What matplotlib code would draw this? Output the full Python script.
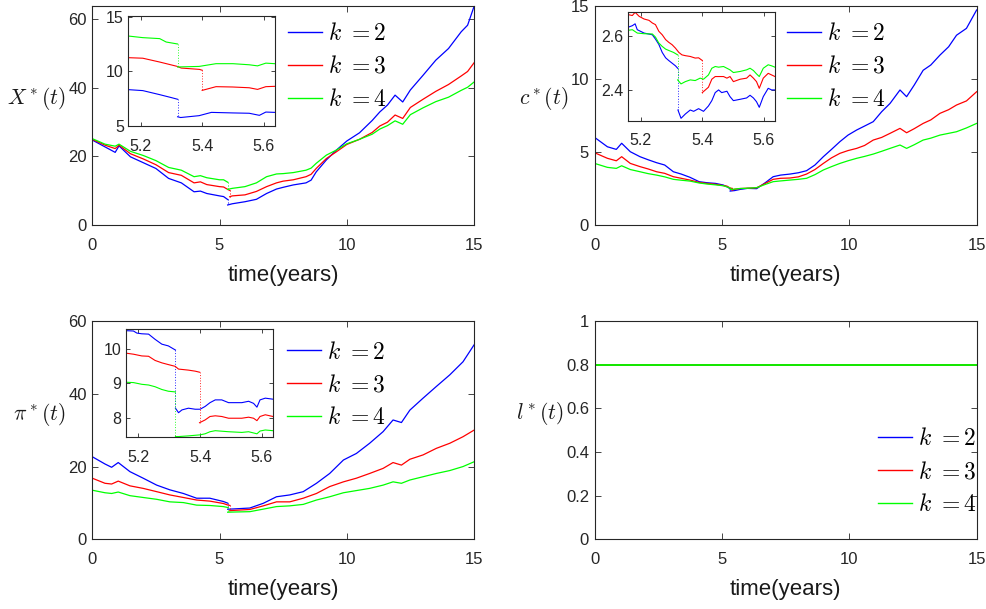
import numpy as np
import matplotlib
matplotlib.use('Agg')
import matplotlib.pyplot as plt

plt.rcParams['mathtext.fontset'] = 'cm'
SANS = ['Liberation Sans', 'DejaVu Sans']
plt.rcParams['font.family'] = SANS

# ---------------- data ----------------
labels = [r'$k\ {=}2$', r'$k\ {=}3$', r'$k\ {=}4$']
colors = ['#0000ff', '#ff0000', '#00ff00']

# Panel 1: X*(t)
t1 = [0, 0.5, 0.9, 1.05, 1.5, 2, 2.5, 3, 3.5, 4, 4.25, 4.5, 5, 5.16, 5.32, 5.32,
      5.5, 6, 6.45, 6.85, 7.24, 7.5, 7.9, 8.4, 8.6, 8.8, 9.2, 9.6, 10, 10.5, 11,
      11.3, 11.6, 11.9, 12.2, 12.5, 13, 13.5, 14, 14.5, 14.75, 15]
t1r = [0, 0.5, 0.9, 1.05, 1.5, 2, 2.5, 3, 3.5, 4, 4.25, 4.5, 5, 5.16, 5.32, 5.4, 5.4,
       5.5, 6, 6.45, 6.85, 7.24, 7.5, 7.9, 8.4, 8.6, 8.8, 9.2, 9.6, 10, 10.5, 11,
       11.3, 11.6, 11.9, 12.2, 12.5, 13, 13.5, 14, 14.5, 14.75, 15]
X_k2 = [24.8, 22.8, 21.2, 23.1, 19.9, 18.2, 16.5, 13.6, 12.3, 9.7, 9.9, 9.2, 8.5, 8.3,
        7.45, 5.85, 6.2, 6.8, 7.5, 9.2, 10.5, 11.0, 11.7, 12.3, 13.1, 15.5, 19.0, 21.9,
        24.5, 26.9, 30.5, 33.0, 35.0, 37.9, 35.9, 39.4, 43.7, 48.1, 51.5, 56.4, 58.3, 63.7]
X_k3 = [25.0, 23.3, 22.3, 23.3, 20.8, 19.3, 17.6, 15.3, 14.5, 12.3, 12.6, 11.8, 11.2,
        11.1, 10.4, 10.1, 8.25, 8.5, 8.8, 9.8, 11.2, 12.3, 12.8, 13.2, 14.1, 14.8, 16.5,
        19.4, 21.4, 23.5, 25.0, 27.0, 28.9, 30.0, 32.1, 31.1, 34.3, 36.7, 39.0, 41.0,
        43.5, 44.8, 47.3]
X_k4 = [25.2, 23.6, 23.0, 23.6, 21.5, 20.3, 18.8, 16.8, 16.0, 14.1, 14.4, 13.8, 13.2,
        13.2, 12.5, 10.4, 10.7, 11.2, 12.3, 14.1, 14.9, 15.0, 15.3, 16.0, 16.6, 18.0,
        20.4, 21.9, 23.7, 25.0, 26.5, 28.0, 29.0, 30.4, 29.4, 32.2, 34.2, 36.0, 37.3,
        39.3, 40.2, 41.7]
# inset 1
ti1_k2 = [5.159, 5.207, 5.262, 5.30, 5.32, 5.32, 5.33, 5.39, 5.43, 5.50, 5.553, 5.586, 5.607, 5.636]
Xi_k2 = [8.33, 8.24, 7.87, 7.6, 7.45, 5.85, 5.78, 5.95, 6.25, 6.2, 6.17, 5.98, 6.28, 6.25]
ti1_k3 = [5.159, 5.207, 5.262, 5.318, 5.332, 5.391, 5.40, 5.40, 5.445, 5.499, 5.553, 5.58, 5.607, 5.636]
Xi_k3 = [11.25, 11.2, 10.85, 10.46, 10.3, 10.18, 10.1, 8.26, 8.6, 8.57, 8.5, 8.35, 8.6, 8.63]
ti1_k4 = [5.159, 5.207, 5.262, 5.283, 5.32, 5.32, 5.39, 5.445, 5.50, 5.553, 5.58, 5.607, 5.636]
Xi_k4 = [13.23, 13.08, 12.99, 12.68, 12.5, 10.4, 10.45, 10.7, 10.7, 10.6, 10.5, 10.75, 10.7]

# Panel 2: c*(t)
t2 = [0, 0.5, 0.85, 1.06, 1.4, 1.78, 2.1, 2.43, 2.75, 3.09, 3.4, 3.74, 4.1, 4.4, 4.75,
      5.05, 5.2, 5.32, 5.32, 5.5, 5.71, 6.0, 6.36, 6.7, 7.01, 7.3, 7.67, 8.0, 8.32, 8.65,
      8.98, 9.3, 9.63, 9.95, 10.29, 10.6, 10.94, 11.27, 11.6, 11.99, 12.25, 12.55, 12.9,
      13.2, 13.56, 13.9, 14.21, 14.6, 15]
t2r = [0, 0.5, 0.85, 1.06, 1.4, 1.78, 2.1, 2.43, 2.75, 3.09, 3.4, 3.74, 4.1, 4.4, 4.75,
       5.05, 5.2, 5.32, 5.4, 5.4, 5.5, 5.71, 6.0, 6.36, 6.7, 7.01, 7.3, 7.67, 8.0, 8.32,
       8.65, 8.98, 9.3, 9.63, 9.95, 10.29, 10.6, 10.94, 11.27, 11.6, 11.99, 12.25, 12.55,
       12.9, 13.2, 13.56, 13.9, 14.21, 14.6, 15]
c_k2 = [6.0, 5.36, 5.18, 5.6, 5.02, 4.68, 4.47, 4.27, 4.11, 3.65, 3.49, 3.27, 2.97, 2.9,
        2.85, 2.74, 2.62, 2.48, 2.325, 2.36, 2.44, 2.51, 2.49, 2.9, 3.31, 3.42, 3.49, 3.58,
        3.72, 4.11, 4.68, 5.18, 5.71, 6.16, 6.51, 6.78, 7.08, 7.76, 8.33, 9.25, 8.79, 9.59,
        10.6, 10.96, 11.64, 12.21, 13.0, 13.47, 14.73]
c_k3 = [4.95, 4.57, 4.4, 4.68, 4.22, 4.0, 3.84, 3.65, 3.54, 3.31, 3.2, 3.08, 2.92, 2.85,
        2.79, 2.7, 2.66, 2.53, 2.51, 2.39, 2.45, 2.5, 2.52, 2.55, 2.85, 3.13, 3.2, 3.22, 3.3,
        3.49, 3.8, 4.22, 4.6, 4.91, 5.1, 5.25, 5.45, 5.82, 6.0, 6.28, 6.62, 6.32, 6.6, 6.96,
        7.2, 7.65, 7.9, 8.22, 8.5, 9.13]
c_k4 = [4.22, 3.95, 3.88, 4.06, 3.8, 3.65, 3.52, 3.42, 3.3, 3.13, 3.07, 3.01, 2.88, 2.81,
        2.75, 2.69, 2.61, 2.53, 2.44, 2.46, 2.5, 2.52, 2.56, 2.78, 2.97, 3.02, 3.08, 3.13,
        3.2, 3.45, 3.77, 4.0, 4.22, 4.4, 4.57, 4.7, 4.86, 5.05, 5.25, 5.48, 5.25, 5.5, 5.82,
        5.95, 6.16, 6.28, 6.39, 6.65, 6.96]
# inset 2
ti2_k2 = [5.161, 5.173, 5.182, 5.189, 5.211, 5.238, 5.248, 5.259, 5.270, 5.281, 5.291,
          5.302, 5.313, 5.321, 5.321, 5.331, 5.345, 5.361, 5.372, 5.388, 5.404, 5.420,
          5.431, 5.442, 5.453, 5.463, 5.480, 5.490, 5.501, 5.523, 5.544, 5.555, 5.566,
          5.576, 5.585, 5.598, 5.614, 5.625, 5.636]
ci_k2 = [2.635, 2.64, 2.647, 2.625, 2.6125, 2.606, 2.59, 2.57, 2.54, 2.52, 2.51, 2.50,
         2.49, 2.48, 2.325, 2.294, 2.31, 2.325, 2.32, 2.33, 2.32, 2.34, 2.36, 2.39, 2.40,
         2.39, 2.395, 2.375, 2.36, 2.365, 2.37, 2.38, 2.37, 2.356, 2.335, 2.375, 2.406,
         2.40, 2.40]
ti2_k3 = [5.161, 5.173, 5.182, 5.195, 5.211, 5.227, 5.238, 5.248, 5.259, 5.270, 5.281,
          5.291, 5.302, 5.313, 5.324, 5.334, 5.345, 5.361, 5.377, 5.388, 5.40, 5.40,
          5.410, 5.420, 5.431, 5.442, 5.453, 5.469, 5.480, 5.490, 5.501, 5.523, 5.544,
          5.555, 5.566, 5.576, 5.585, 5.598, 5.614, 5.625, 5.636]
ci_k3 = [2.681, 2.678, 2.69, 2.675, 2.665, 2.66, 2.65, 2.644, 2.619, 2.606, 2.588, 2.578,
         2.569, 2.556, 2.54, 2.531, 2.528, 2.525, 2.519, 2.52, 2.51, 2.39, 2.40, 2.41,
         2.44, 2.45, 2.45, 2.45, 2.444, 2.45, 2.431, 2.44, 2.444, 2.456, 2.444, 2.431,
         2.406, 2.444, 2.462, 2.456, 2.45]
ti2_k4 = [5.161, 5.173, 5.189, 5.211, 5.238, 5.248, 5.259, 5.270, 5.281, 5.291, 5.307,
          5.320, 5.320, 5.331, 5.345, 5.361, 5.377, 5.393, 5.404, 5.420, 5.431, 5.442,
          5.453, 5.469, 5.480, 5.490, 5.501, 5.523, 5.544, 5.555, 5.566, 5.576, 5.585,
          5.598, 5.614, 5.625, 5.636]
ci_k4 = [2.623, 2.625, 2.6125, 2.61, 2.609, 2.5975, 2.575, 2.5625, 2.5525, 2.5475, 2.54,
         2.531, 2.4375, 2.4225, 2.431, 2.4375, 2.435, 2.444, 2.44, 2.456, 2.481, 2.4875,
         2.485, 2.4875, 2.481, 2.475, 2.465, 2.469, 2.475, 2.481, 2.4725, 2.46, 2.45,
         2.481, 2.494, 2.49, 2.485]

# Panel 3: pi*(t)
t3 = [0, 0.5, 0.76, 1.02, 1.48, 2.0, 2.53, 3.05, 3.58, 4.1, 4.62, 5.15, 5.32, 5.32,
      5.54, 6.19, 6.72, 7.24, 7.76, 8.29, 8.81, 9.33, 9.87, 10.38, 10.9, 11.43, 11.82,
      12.15, 12.48, 13.0, 13.52, 14.05, 14.57, 15]
t3r = [0, 0.5, 0.76, 1.02, 1.48, 2.0, 2.53, 3.05, 3.58, 4.1, 4.62, 5.15, 5.32, 5.4, 5.4,
       5.54, 6.19, 6.72, 7.24, 7.76, 8.29, 8.81, 9.33, 9.87, 10.38, 10.9, 11.43, 11.82,
       12.15, 12.48, 13.0, 13.52, 14.05, 14.57, 15]
p_k2 = [22.7, 20.7, 19.8, 21.1, 18.6, 16.8, 14.9, 13.6, 12.6, 11.3, 11.3, 10.4, 9.95,
        8.28, 8.35, 8.6, 9.9, 11.7, 12.2, 13.1, 15.4, 18.1, 21.8, 23.6, 26.4, 29.6, 32.8,
        32.1, 35.5, 38.8, 42.0, 45.2, 48.8, 53.4]
p_k3 = [16.8, 15.4, 15.2, 16.0, 14.7, 14.0, 13.1, 12.2, 11.5, 10.8, 10.5, 9.85, 9.45,
        9.32, 7.86, 7.95, 8.2, 9.2, 10.3, 10.3, 11.3, 12.6, 14.5, 15.8, 16.8, 18.1, 19.5,
        21.1, 20.4, 22.0, 23.2, 25.0, 26.4, 28.2, 30.0]
p_k4 = [13.5, 12.8, 12.6, 13.0, 12.0, 11.5, 11.0, 10.3, 10.1, 9.4, 9.3, 9.0, 8.75, 7.46,
        7.5, 7.6, 8.3, 9.0, 9.2, 9.6, 10.8, 11.7, 12.8, 13.4, 14.0, 14.9, 15.8, 15.4, 16.3,
        17.2, 18.1, 18.9, 20.0, 21.3]
# inset 3
ti3_k2 = [5.160, 5.184, 5.195, 5.211, 5.233, 5.254, 5.276, 5.297, 5.32, 5.32, 5.330,
          5.341, 5.362, 5.384, 5.400, 5.416, 5.432, 5.449, 5.470, 5.492, 5.513, 5.535,
          5.557, 5.573, 5.584, 5.594, 5.611, 5.636]
pi_k2 = [10.52, 10.51, 10.45, 10.43, 10.42, 10.27, 10.13, 10.08, 9.96, 8.28, 8.15, 8.23,
         8.28, 8.25, 8.25, 8.33, 8.44, 8.52, 8.52, 8.44, 8.44, 8.44, 8.48, 8.42, 8.31,
         8.52, 8.57, 8.54]
ti3_k3 = [5.160, 5.184, 5.211, 5.233, 5.254, 5.276, 5.297, 5.319, 5.330, 5.341, 5.362,
          5.384, 5.398, 5.398, 5.416, 5.432, 5.449, 5.470, 5.492, 5.513, 5.535, 5.557,
          5.573, 5.584, 5.594, 5.611, 5.636]
pi_k3 = [9.87, 9.84, 9.79, 9.78, 9.66, 9.59, 9.54, 9.49, 9.41, 9.40, 9.38, 9.35, 9.32,
         7.86, 7.94, 8.04, 8.06, 8.04, 7.99, 7.99, 7.99, 8.02, 7.99, 7.92, 8.04, 8.09, 8.04]
ti3_k4 = [5.160, 5.184, 5.211, 5.233, 5.254, 5.276, 5.297, 5.32, 5.32, 5.330, 5.362,
          5.400, 5.416, 5.432, 5.449, 5.492, 5.535, 5.557, 5.584, 5.594, 5.611, 5.636]
pi_k4 = [9.03, 9.02, 8.97, 8.95, 8.90, 8.82, 8.77, 8.75, 7.46, 7.46, 7.48, 7.51, 7.54,
         7.60, 7.63, 7.60, 7.58, 7.60, 7.54, 7.62, 7.65, 7.63]

# Panel 4: l*(t)
t4 = [0, 15]
l_k2 = [0.8, 0.8]
l_k3 = [0.8, 0.8]
l_k4 = [0.8, 0.8]

main_xticks = [0, 5, 10, 15]
inset_xticks = [5.2, 5.4, 5.6]
inset_xlim = (5.159, 5.637)

# ---------------- drawing ----------------
AX_C = '0.15'


def draw(ax, t, v, color, label=None, lw=0.9):
    t = np.asarray(t, float)
    v = np.asarray(v, float)
    jumps = np.where(np.diff(t) == 0)[0]
    start = 0
    for j in jumps:
        ax.plot(t[start:j + 1], v[start:j + 1], color=color, lw=lw)
        ax.plot(t[j:j + 2], v[j:j + 2], color=color, lw=lw * 0.8, ls=(0, (1, 2)))
        start = j + 1
    ax.plot(t[start:], v[start:], color=color, lw=lw, label=label)


def style(ax, fs, xpad, ypad, length):
    for s in ax.spines.values():
        s.set_linewidth(0.8)
        s.set_color(AX_C)
    ax.tick_params(direction='in', top=True, right=True, length=length,
                   width=0.6, colors=AX_C, labelsize=fs)
    ax.tick_params(axis='x', pad=xpad)
    ax.tick_params(axis='y', pad=ypad)


fig = plt.figure(figsize=(9.87, 6.09), dpi=100)

pos = {
    1: [0.0935, 0.6305, 0.3867, 0.3596],
    2: [0.6025, 0.6305, 0.3870, 0.3596],
    3: [0.0935, 0.1144, 0.3867, 0.3585],
    4: [0.6025, 0.1144, 0.3870, 0.3585],
}
ipos = {
    1: [0.1297, 0.793, 0.149, 0.1806],
    2: [0.6363, 0.8018, 0.1492, 0.178],
    3: [0.1274, 0.282, 0.1495, 0.1773],
}

main = {
    1: ([t1, t1r, t1], [X_k2, X_k3, X_k4], (0, 63.9), [0, 20, 40, 60], None, r'$X^*(t)$', (-0.147, 0.58)),
    2: ([t2, t2r, t2], [c_k2, c_k3, c_k4], (0, 15), [0, 5, 10, 15], None, r'$c^*(t)$', (-0.133, 0.58)),
    3: ([t3, t3r, t3], [p_k2, p_k3, p_k4], (0, 60), [0, 20, 40, 60], None, r'$\pi^*(t)$', (-0.14, 0.57)),
    4: ([t4, t4, t4], [l_k2, l_k3, l_k4], (0, 1), [0, 0.2, 0.4, 0.6, 0.8, 1],
        ['0', '0.2', '0.4', '0.6', '0.8', '1'], r'$l^*(t)$', (-0.143, 0.578)),
}
legpos = {1: (0.513, 0.922), 2: (0.503, 0.922), 3: (0.51, 0.905), 4: (0.742, 0.509)}
mainlw = {1: 0.9, 2: 0.9, 3: 0.9, 4: 1.3}

for k in [1, 2, 3, 4]:
    ax = fig.add_axes(pos[k])
    ts, vs, ylim, yticks, ytl, ylab, ylc = main[k]
    for t, v, c, lab in zip(ts, vs, colors, labels):
        draw(ax, t, v, c, label=lab, lw=mainlw[k])
    ax.set_xlim(0, 15)
    ax.set_ylim(*ylim)
    ax.set_xticks(main_xticks)
    ax.set_yticks(yticks)
    if ytl is not None:
        ax.set_yticklabels(ytl)
    style(ax, 12, 9, 4, 4)
    ax.set_xlabel('time(years)', fontsize=16, color='0.1')
    ax.xaxis.set_label_coords(0.5, -0.23)
    ax.xaxis.label.set_va('center')
    ax.set_ylabel(ylab, fontsize=15.5, rotation=0, color='0.1')
    ax.yaxis.set_label_coords(*ylc)
    ax.yaxis.label.set_va('center')
    ax.yaxis.label.set_ha('center')
    leg = ax.legend(loc='upper left', bbox_to_anchor=legpos[k], frameon=False,
                    fontsize=17, borderpad=0, borderaxespad=0, handlelength=1.45,
                    handletextpad=0.25, labelspacing=0.46)
    for line in leg.get_lines():
        line.set_linewidth(1.0)

insets = {
    1: ([ti1_k2, ti1_k3, ti1_k4], [Xi_k2, Xi_k3, Xi_k4], (5, 15.05), [5, 10, 15], ['5', '10', '15']),
    2: ([ti2_k2, ti2_k3, ti2_k4], [ci_k2, ci_k3, ci_k4], (2.285, 2.69), [2.4, 2.6], ['2.4', '2.6']),
    3: ([ti3_k2, ti3_k3, ti3_k4], [pi_k2, pi_k3, pi_k4], (7.44, 10.56), [8, 9, 10], ['8', '9', '10']),
}
for k in [1, 2, 3]:
    ax = fig.add_axes(ipos[k])
    ts, vs, ylim, yticks, ytl = insets[k]
    for t, v, c in zip(ts, vs, colors):
        draw(ax, t, v, c, lw=0.8)
    ax.set_xlim(*inset_xlim)
    ax.set_ylim(*ylim)
    ax.set_xticks(inset_xticks)
    ax.set_xticklabels(['5.2', '5.4', '5.6'])
    ax.set_yticks(yticks)
    ax.set_yticklabels(ytl)
    style(ax, 11.5, 9, 3, 3)

fig.savefig('out.png', dpi=100)
